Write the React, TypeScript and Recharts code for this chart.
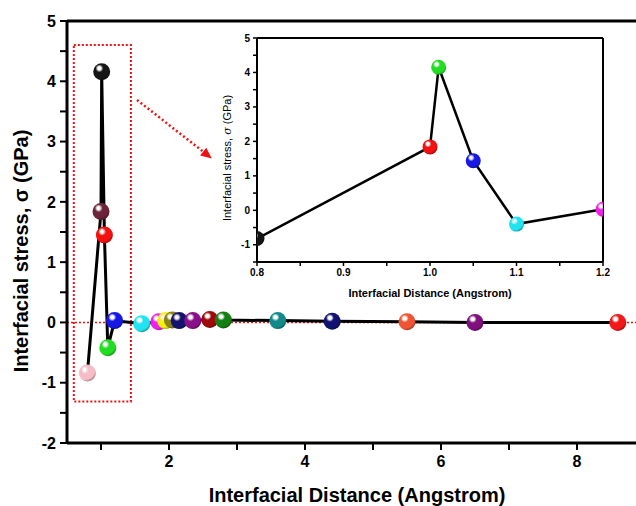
import React from 'react';
import {
  LineChart,
  Line,
  XAxis,
  YAxis,
  ReferenceLine,
  ReferenceArea,
} from 'recharts';

// main plot: interfacial distance (Angstrom) vs stress (GPa)
const mainDistance = [0.8, 1.0, 1.01, 1.05, 1.1, 1.2, 1.6, 1.85, 1.95, 2.05, 2.15, 2.35, 2.6, 2.8, 3.6, 4.4, 5.5, 6.5, 8.6];
const mainStress = [-0.84, 1.84, 4.16, 1.45, -0.42, 0.03, -0.02, 0.01, 0.03, 0.04, 0.03, 0.03, 0.05, 0.04, 0.03, 0.02, 0.01, 0.0, 0.0];
const mainColors = [
  '#f6bcc6', '#6e2438', '#151515', '#f21010', '#22dd22', '#1818e6', '#20e4f0',
  '#f020e8', '#f4f010', '#8a8418', '#141470', '#8a108a', '#a00a0a', '#128012',
  '#128a8a', '#121272', '#ef5533', '#80107e', '#f51818',
];

// inset: zoom on the 0.8 - 1.2 range
const insetDistance = [0.8, 1.0, 1.01, 1.05, 1.1, 1.2];
const insetStress = [-0.82, 1.84, 4.15, 1.44, -0.4, 0.03];
const insetColors = ['#151515', '#f21010', '#22dd22', '#1818e6', '#20e4f0', '#f020e8'];

const mainXTicks = [1, 2, 3, 4, 5, 6, 7, 8];
const mainYTicks = [-2, -1.5, -1, -0.5, 0, 0.5, 1, 1.5, 2, 2.5, 3, 3.5, 4, 4.5, 5];
const insetXTicks = [0.8, 0.85, 0.9, 0.95, 1.0, 1.05, 1.1, 1.15, 1.2];
const insetYTicks = [-1.5, -1, -0.5, 0, 0.5, 1, 1.5, 2, 2.5, 3, 3.5, 4, 4.5, 5];

// dotted box around the 0.8-1.2 region, and the arrow pointing to the inset
const boxX = [0.6, 1.44];
const boxY = [-1.31, 4.6];
const arrowFrom = { x: 1.53, y: 3.69 };
const arrowTo = { x: 2.63, y: 2.72 };

const mainData = mainDistance.map((d, i) => ({ d, s: mainStress[i], color: mainColors[i] }));
const insetData = insetDistance.map((d, i) => ({ d, s: insetStress[i], color: insetColors[i] }));

const FONT = '"Liberation Sans", Arial, sans-serif';

const darken = (hex: string, k: number) => {
  const n = parseInt(hex.slice(1), 16);
  const r = Math.round(((n >> 16) & 255) * k);
  const g = Math.round(((n >> 8) & 255) * k);
  const b = Math.round((n & 255) * k);
  return `rgb(${r},${g},${b})`;
};

const makeBall = (prefix: string, radius: number) => (props: any) => {
  const { cx, cy, payload, index } = props;
  if (cx == null || cy == null) return <g key={`${prefix}-${index}`} />;
  const id = `${prefix}-grad-${index}`;
  return (
    <g key={`${prefix}-${index}`}>
      <defs>
        <radialGradient id={id} cx="38%" cy="32%" r="68%" fx="36%" fy="30%">
          <stop offset="0%" stopColor="#ffffff" />
          <stop offset="14%" stopColor="#ffffff" stopOpacity={0.9} />
          <stop offset="34%" stopColor={payload.color} />
          <stop offset="82%" stopColor={payload.color} />
          <stop offset="100%" stopColor={darken(payload.color, 0.7)} />
        </radialGradient>
      </defs>
      <circle cx={cx} cy={cy} r={radius} fill={`url(#${id})`} />
    </g>
  );
};

const MainBall = makeBall('main', 8.5);
const InsetBall = makeBall('inset', 7.5);

const ArrowShape = (props: any) => {
  const { x1, y1, x2, y2 } = props;
  if (x1 == null) return <g />;
  const ang = Math.atan2(y2 - y1, x2 - x1);
  const len = 11;
  const w = 5;
  const bx = x2 - len * Math.cos(ang);
  const by = y2 - len * Math.sin(ang);
  const px = -Math.sin(ang) * w;
  const py = Math.cos(ang) * w;
  return (
    <g>
      <line x1={x1} y1={y1} x2={bx} y2={by} stroke="#ee1111" strokeWidth={2.5} strokeDasharray="2 2.5" />
      <polygon points={`${x2},${y2} ${bx + px},${by + py} ${bx - px},${by - py}`} fill="#ee1111" />
    </g>
  );
};

const fmtInt = (v: number) => (Number.isInteger(v) ? String(v) : '');
const fmtEven = (v: number) => (v % 2 === 0 ? String(v) : '');
const fmtTenth = (v: number) => (Math.round(v * 100) % 10 === 0 ? v.toFixed(1) : '');

const MainChart = () => (
  <LineChart width={660} height={506} data={mainData} margin={{ top: 21, right: 15, bottom: 0, left: 0 }}>
    <XAxis
      dataKey="d"
      type="number"
      domain={[0.5, 9]}
      ticks={mainXTicks}
      tickFormatter={fmtEven}
      height={63}
      tickSize={7}
      tickMargin={6}
      axisLine={{ stroke: '#000', strokeWidth: 3 }}
      tickLine={{ stroke: '#000', strokeWidth: 2 }}
      tick={{ fill: '#000', fontSize: 16, fontWeight: 700, fontFamily: FONT }}
      label={{
        content: () => (
          <text x={357} y={502} textAnchor="middle" fontFamily={FONT} fontWeight={700} fontSize={20} fill="#000">
            Interfacial Distance (Angstrom)
          </text>
        ),
      }}
    />
    <YAxis
      dataKey="s"
      type="number"
      domain={[-2, 5]}
      ticks={mainYTicks}
      tickFormatter={fmtInt}
      width={67}
      tickSize={7}
      tickMargin={4}
      axisLine={{ stroke: '#000', strokeWidth: 3 }}
      tickLine={{ stroke: '#000', strokeWidth: 2 }}
      tick={{ fill: '#000', fontSize: 16, fontWeight: 700, fontFamily: FONT }}
      label={{
        content: () => (
          <text
            x={28}
            y={251}
            transform="rotate(-90, 28, 251)"
            textAnchor="middle"
            fontFamily={FONT}
            fontWeight={700}
            fontSize={20}
            fill="#000"
          >
            Interfacial stress, σ (GPa)
          </text>
        ),
      }}
    />
    <ReferenceLine y={5} stroke="#000" strokeWidth={3} />
    <ReferenceLine y={0} stroke="#ee1111" strokeWidth={1.5} strokeDasharray="2 2" />
    <ReferenceArea
      x1={boxX[0]}
      x2={boxX[1]}
      y1={boxY[0]}
      y2={boxY[1]}
      fill="none"
      stroke="#ee1111"
      strokeWidth={2}
      strokeDasharray="2 2"
    />
    <ReferenceLine segment={[arrowFrom, arrowTo]} shape={ArrowShape} />
    <Line
      dataKey="s"
      type="linear"
      stroke="#000"
      strokeWidth={3}
      dot={MainBall}
      activeDot={false}
      isAnimationActive={false}
    />
  </LineChart>
);

const InsetChart = () => (
  <LineChart width={400} height={285} data={insetData} margin={{ top: 8, right: 7, bottom: 0, left: 0 }}>
    <XAxis
      dataKey="d"
      type="number"
      domain={[0.8, 1.2]}
      allowDataOverflow
      ticks={insetXTicks}
      tickFormatter={fmtTenth}
      height={53}
      tickSize={4}
      tickMargin={3}
      axisLine={{ stroke: '#000', strokeWidth: 2 }}
      tickLine={{ stroke: '#000', strokeWidth: 1.5 }}
      tick={{ fill: '#000', fontSize: 10, fontWeight: 700, fontFamily: FONT }}
      label={{
        content: () => (
          <text x={220} y={267} textAnchor="middle" fontFamily={FONT} fontWeight={700} fontSize={11} fill="#000">
            Interfacial Distance (Angstrom)
          </text>
        ),
      }}
    />
    <YAxis
      dataKey="s"
      type="number"
      domain={[-1.5, 5]}
      allowDataOverflow
      ticks={insetYTicks}
      tickFormatter={fmtInt}
      width={47}
      tickSize={4}
      tickMargin={3}
      axisLine={{ stroke: '#000', strokeWidth: 2 }}
      tickLine={{ stroke: '#000', strokeWidth: 1.5 }}
      tick={{ fill: '#000', fontSize: 10, fontWeight: 700, fontFamily: FONT }}
      label={{
        content: () => (
          <text
            x={21}
            y={128}
            transform="rotate(-90, 21, 128)"
            textAnchor="middle"
            fontFamily={FONT}
            fontSize={11}
            fill="#000"
          >
            Interfacial stress, <tspan fontStyle="italic" fontFamily="'DejaVu Serif', serif">σ</tspan> (GPa)
          </text>
        ),
      }}
    />
    <ReferenceLine y={5} stroke="#000" strokeWidth={2} />
    <ReferenceLine x={1.2} stroke="#000" strokeWidth={2} />
    <Line
      dataKey="s"
      type="linear"
      stroke="#000"
      strokeWidth={2.5}
      dot={InsetBall}
      activeDot={false}
      isAnimationActive={false}
    />
  </LineChart>
);

export default function App() {
  return (
    <div
      style={{
        position: 'fixed',
        left: 0,
        top: 0,
        width: 636,
        height: 506,
        overflow: 'hidden',
        background: '#fff',
      }}
    >
      <div style={{ position: 'absolute', left: 0, top: 0 }}>
        <MainChart />
      </div>
      <div style={{ position: 'absolute', left: 210, top: 30 }}>
        <InsetChart />
      </div>
    </div>
  );
}
